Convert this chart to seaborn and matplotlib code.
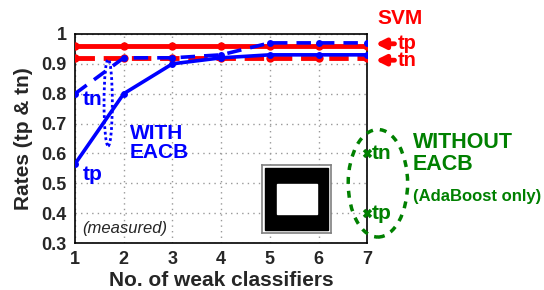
import numpy as np
import pandas as pd
import seaborn as sns
import matplotlib.pyplot as plt
from matplotlib.patches import Ellipse, Rectangle

# data
n_weak = [1, 2, 3, 4, 5, 6, 7]
eacb_tp = [0.565, 0.80, 0.90, 0.92, 0.93, 0.93, 0.93]
eacb_tn = [0.80, 0.92, 0.92, 0.93, 0.97, 0.97, 0.97]
svm_tp = [0.96] * 7
svm_tn = [0.92] * 7
ada_x = [7, 7]
ada_rates = [0.40, 0.60]
ada_names = ["tp", "tn"]
yticks = [0.3, 0.4, 0.5, 0.6, 0.7, 0.8, 0.9, 1]
ytick_labels = ["0.3", "0.4", "0.5", "0.6", "0.7", "0.8", "0.9", "1"]

sns.set_style("white")
plt.rcParams['font.family'] = ['Liberation Sans', 'DejaVu Sans']
plt.rcParams['font.weight'] = 'bold'
plt.rcParams['axes.labelweight'] = 'bold'

fig = plt.figure(figsize=(5.44, 2.9), dpi=100)
ax = fig.add_axes([0.138, 0.162, 0.537, 0.721])

red = "#ff0000"
blue = "#0000ff"
green = "#008000"

sns.lineplot(x=n_weak, y=svm_tp, ax=ax, color=red, lw=3.5, marker="o", ms=6,
             markeredgewidth=0, zorder=3)
sns.lineplot(x=n_weak, y=svm_tn, ax=ax, color=red, lw=3.5, ls=(0, (4, 1.8)),
             marker="o", ms=6, markeredgewidth=0, zorder=3)
sns.lineplot(x=n_weak, y=eacb_tn, ax=ax, color=blue, lw=2.6, ls=(0, (4, 2.5)),
             marker="o", ms=5, markeredgewidth=0, zorder=4)
sns.lineplot(x=n_weak, y=eacb_tp, ax=ax, color=blue, lw=2.6, marker="o", ms=5,
             markeredgewidth=0, zorder=4)

# AdaBoost-only points on the right edge
ax.scatter(ada_x, ada_rates, marker="x", color=green, s=25, lw=2.5,
           zorder=6, clip_on=False)
for xv, yv, nm in zip(ada_x, ada_rates, ada_names):
    ax.text(xv + 0.1, yv, nm, color=green, fontsize=15, va="center",
            ha="left", clip_on=False)
ax.add_patch(Ellipse((7.22, 0.50), 1.22, 0.36, fill=False, ec=green,
                     lw=2.5, ls=(0, (2, 2)), clip_on=False, zorder=5))

# dotted ellipse around the EACB jump
ax.add_patch(Ellipse((1.68, 0.77), 0.17, 0.29, fill=False, ec=blue,
                     lw=2, ls=(0, (1, 1)), zorder=5))

ax.set_xlim(1, 7)
ax.set_ylim(0.3, 1)
ax.set_xticks(n_weak)
ax.set_yticks(yticks)
ax.set_yticklabels(ytick_labels)
ax.tick_params(labelsize=13, direction="in", length=3, pad=6)
for lab in ax.get_xticklabels() + ax.get_yticklabels():
    lab.set_fontweight("bold")
ax.grid(True, color="#999999", ls=(0, (1, 3)), lw=1)
for s in ax.spines.values():
    s.set_color("black")
    s.set_linewidth(1.2)
ax.set_xlabel("No. of weak classifiers", fontsize=15, labelpad=2)
ax.set_ylabel("Rates (tp & tn)", fontsize=15, labelpad=6)

# annotations
ax.text(1.15, 0.78, "tn", color=blue, fontsize=15, va="center")
ax.text(1.15, 0.53, "tp", color=blue, fontsize=15, va="center")
ax.text(2.13, 0.635, "WITH\nEACB", color=blue, fontsize=15, va="center",
        linespacing=1.05)
ax.text(1.15, 0.347, "(measured)", fontsize=12, style="italic",
        fontweight="normal", va="center")

ax.text(7.2, 1.053, "SVM", color=red, fontsize=15, ha="left", va="center",
        clip_on=False)
for yv, nm in zip([0.967, 0.912], ["tp", "tn"]):
    ax.annotate("", xy=(7.17, yv), xytext=(7.56, yv), xycoords="data",
                arrowprops=dict(arrowstyle="-|>", color=red, lw=3.5,
                                mutation_scale=14, shrinkA=0, shrinkB=0),
                annotation_clip=False)
    ax.text(7.63, yv, nm, color=red, fontsize=14.5, va="center", ha="left",
            clip_on=False)

ax.text(7.94, 0.60, "WITHOUT\nEACB", color=green, fontsize=15.5, va="center",
        ha="left", linespacing=1.05, clip_on=False)
ax.text(7.94, 0.455, "(AdaBoost only)", color=green, fontsize=12,
        va="center", ha="left", clip_on=False)

# inset pattern: black frame with white window
ins = fig.add_axes([262 / 544, 1 - 233 / 290, 69 / 544, 68 / 290])
ins.set_xlim(0, 1)
ins.set_ylim(0, 1)
ins.set_xticks([])
ins.set_yticks([])
for s in ins.spines.values():
    s.set_color("#808080")
    s.set_linewidth(1.2)
ins.add_patch(Rectangle((0.05, 0.05), 0.9, 0.9, color="black"))
ins.add_patch(Rectangle((0.22, 0.28), 0.58, 0.44, color="white"))

fig.savefig("out.png", dpi=100)
